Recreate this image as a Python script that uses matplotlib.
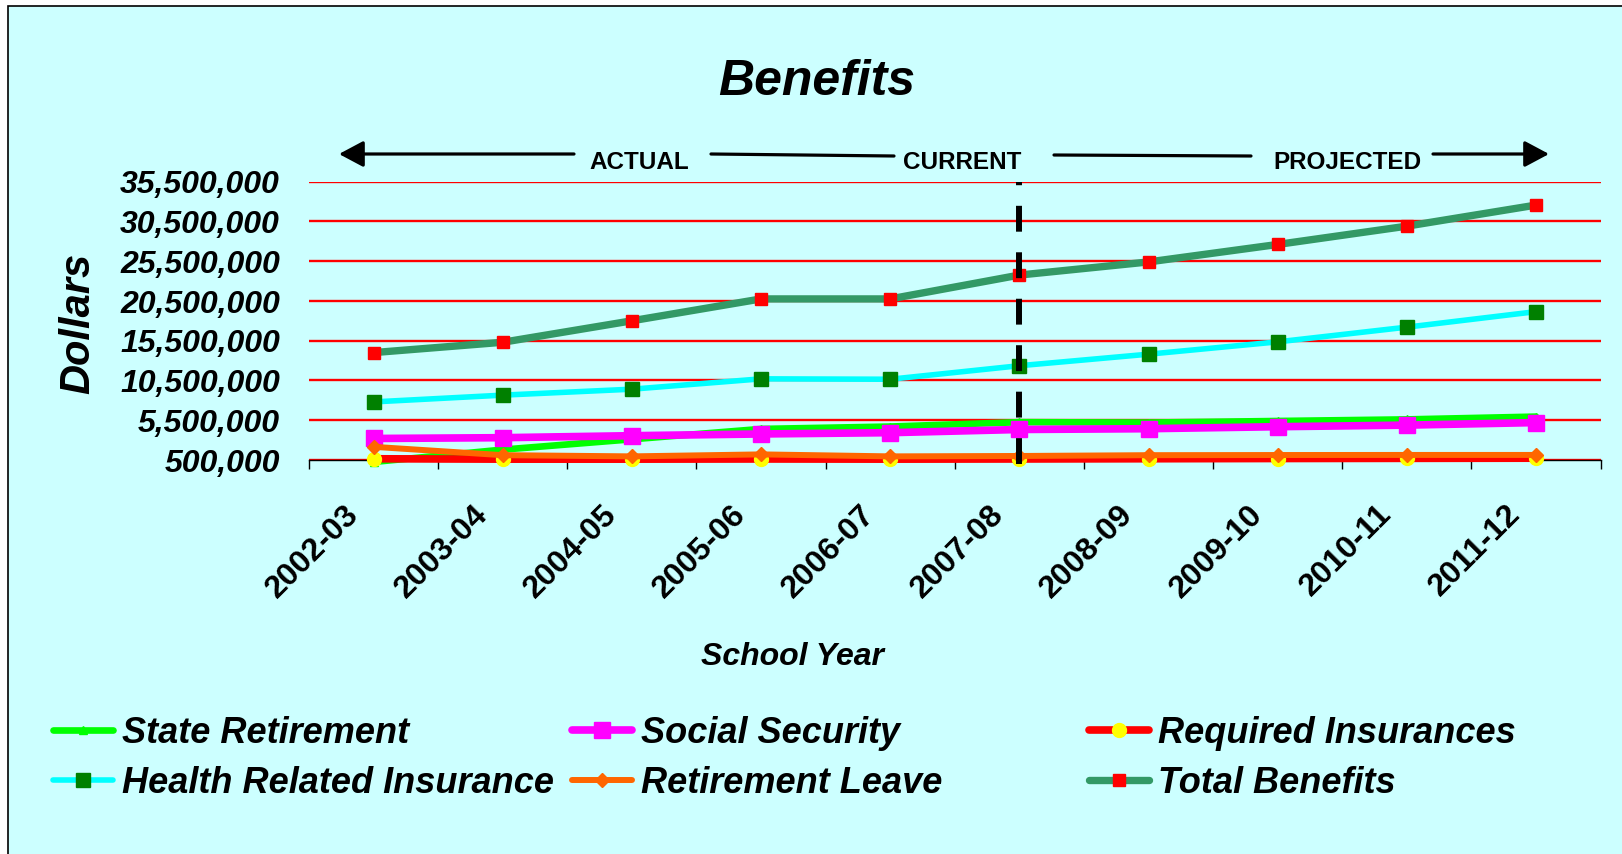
import matplotlib
matplotlib.use("Agg")
import numpy as np
import matplotlib.pyplot as plt
import matplotlib.transforms as mtransforms
from matplotlib.patches import Rectangle
from matplotlib.ticker import FuncFormatter

plt.rcParams['font.family'] = ['Liberation Sans', 'DejaVu Sans']

# ---- data -------------------------------------------------------------
years = ["2002-03", "2003-04", "2004-05", "2005-06", "2006-07",
         "2007-08", "2008-09", "2009-10", "2010-11", "2011-12"]
current_year = "2007-08"

state_retirement = [0.25e6, 1.8e6, 3.1e6, 4.4e6, 4.7e6, 5.25e6, 5.2e6, 5.4e6, 5.6e6, 5.95e6]
social_security = [3.2e6, 3.3e6, 3.55e6, 3.77e6, 3.93e6, 4.33e6, 4.43e6, 4.68e6, 4.88e6, 5.2e6]
required_insurances = [0.65e6, 0.6e6, 0.6e6, 0.62e6, 0.6e6, 0.62e6, 0.65e6, 0.68e6, 0.7e6, 0.72e6]
health_insurance = [7.8e6, 8.65e6, 9.4e6, 10.7e6, 10.65e6, 12.35e6, 13.8e6, 15.35e6, 17.2e6, 19.15e6]
retirement_leave = [2.15e6, 1.1e6, 0.95e6, 1.2e6, 0.95e6, 1.0e6, 1.1e6, 1.12e6, 1.13e6, 1.13e6]
total_benefits = [14.0e6, 15.3e6, 18.0e6, 20.75e6, 20.75e6, 23.75e6, 25.4e6, 27.6e6, 29.9e6, 32.55e6]

y_ticks = [500000, 5500000, 10500000, 15500000, 20500000, 25500000, 30500000, 35500000]
period_labels = ["ACTUAL", "CURRENT", "PROJECTED"]

# ---- figure -----------------------------------------------------------
W, H = 1622, 854
fig = plt.figure(figsize=(W / 100 + 0.001, H / 100 + 0.001), dpi=100, facecolor="white")


def fx(px):
    return px / W


def fy(py):
    return 1 - py / H


bg = Rectangle((fx(8), -0.1), 1.2, fy(6) + 0.1, transform=fig.transFigure,
               facecolor="#CCFFFF", edgecolor="black", lw=1.2, zorder=-10)
fig.add_artist(bg)

ax = fig.add_axes([fx(309), fy(460), fx(1600.5) - fx(309), fy(181.7) - fy(460)])
ax.set_facecolor("none")

x = np.arange(len(years))
common = dict(solid_capstyle="round", solid_joinstyle="round", clip_on=False)

l_state, = ax.plot(x, state_retirement, color="#00FF00", lw=4.8, marker="^", ms=6,
                   mfc="#00FF00", mec="#00FF00", label="State Retirement", zorder=3, **common)
l_social, = ax.plot(x, social_security, color="#FF00FF", lw=5.5, marker="s", ms=11,
                    mfc="#FF00FF", mec="#FF00FF", label="Social Security", zorder=4, **common)
l_req, = ax.plot(x, required_insurances, color="#FF0000", lw=5.5, marker="o", ms=10,
                 mfc="#FFFF00", mec="#FFFF00", label="Required Insurances", zorder=5, **common)
l_health, = ax.plot(x, health_insurance, color="#00FFFF", lw=4.0, marker="s", ms=9.5,
                    mfc="#008000", mec="#008000", label="Health Related Insurance", zorder=6, **common)
l_leave, = ax.plot(x, retirement_leave, color="#FF6600", lw=4.3, marker="D", ms=7.5,
                   mfc="#FF6600", mec="#FF6600", label="Retirement Leave", zorder=7, **common)
l_total, = ax.plot(x, total_benefits, color="#339966", lw=5.3, marker="s", ms=8.5,
                   mfc="#FF0000", mec="#FF0000", label="Total Benefits", zorder=8, **common)

# current-year divider
xc = years.index(current_year)
ax.plot([xc, xc], [0, y_ticks[-1]], color="black", lw=4.3, dashes=(4.33, 3.45),
        solid_capstyle="butt", dash_capstyle="butt", clip_on=False, zorder=9)

# axes styling
ax.set_xlim(-0.5, len(years) - 0.5)
ax.set_ylim(y_ticks[0], y_ticks[-1])
ax.set_yticks(y_ticks)
ax.yaxis.set_major_formatter(FuncFormatter(lambda v, p: f"{int(round(v)):,}"))
ax.yaxis.grid(True, color="#FF0000", lw=1.7)
ax.set_axisbelow(True)
for s in ("left", "top", "right"):
    ax.spines[s].set_visible(False)
ax.spines["bottom"].set_color("black")
ax.spines["bottom"].set_linewidth(1.0)
ax.spines["bottom"].set_zorder(2.5)

ax.tick_params(axis="y", length=0, pad=21, labelsize=23)
for lab in ax.get_yticklabels():
    lab.set_fontweight("bold")
    lab.set_fontstyle("italic")

ax.set_xticks(x)
ax.set_xticks(np.arange(-0.5, len(years), 1), minor=True)
ax.tick_params(axis="x", which="major", length=0, pad=40)
ax.tick_params(axis="x", which="minor", length=6.5, width=1, color="black", direction="out")
ax.set_xticklabels(years, rotation=45, ha="right", va="baseline", rotation_mode="anchor",
                   fontsize=23, fontweight="bold")
shift = mtransforms.ScaledTranslation(-14 / 100, 0, fig.dpi_scale_trans)
for lab in ax.get_xticklabels():
    lab.set_transform(lab.get_transform() + shift)

# titles
fig.text(fx(817), fy(95), "Benefits", ha="center", va="baseline", fontsize=36,
         fontweight="bold", fontstyle="italic")
fig.text(fx(792), fy(665), "School Year", ha="center", va="baseline", fontsize=23,
         fontweight="bold", fontstyle="italic")
fig.text(fx(78), fy(323), "Dollars", ha="center", va="center", rotation=90, fontsize=30,
         fontweight="bold", fontstyle="italic")

# period annotation arrows
def seg(x0, y0, x1, y1, arrow=False):
    props = dict(arrowstyle="-|>,head_length=0.75,head_width=0.4" if arrow else "-",
                 lw=2.3, color="black", shrinkA=0, shrinkB=0, mutation_scale=20)
    ax.annotate("", xy=(x1, H - y1), xytext=(x0, H - y0), xycoords="figure pixels",
                textcoords="figure pixels", arrowprops=props, annotation_clip=False)


seg(574, 154, 339, 154, arrow=True)
seg(711, 154, 894, 156)
seg(1054, 155, 1251, 156)
seg(1433, 154, 1549, 154, arrow=True)
for lab, cx in zip(period_labels, (639, 962, 1347)):
    fig.text(fx(cx), fy(169), lab, ha="center", va="baseline", fontsize=17.5,
             fontweight="bold")

# legend, three columns
leg_font = dict(size=26, weight="bold", style="italic")
columns = [([l_state, l_health], 53), ([l_social, l_leave], 572), ([l_req, l_total], 1089)]
for handles, lx in columns:
    fig.legend(handles=handles, labels=[h.get_label() for h in handles],
               loc="upper left", bbox_to_anchor=(fx(lx), fy(716)),
               bbox_transform=fig.transFigure, frameon=False, prop=leg_font,
               handlelength=1.65, handletextpad=0.25, borderpad=0, borderaxespad=0,
               labelspacing=0.4, numpoints=1)

fig.savefig("out.png", dpi=100, facecolor="white")
